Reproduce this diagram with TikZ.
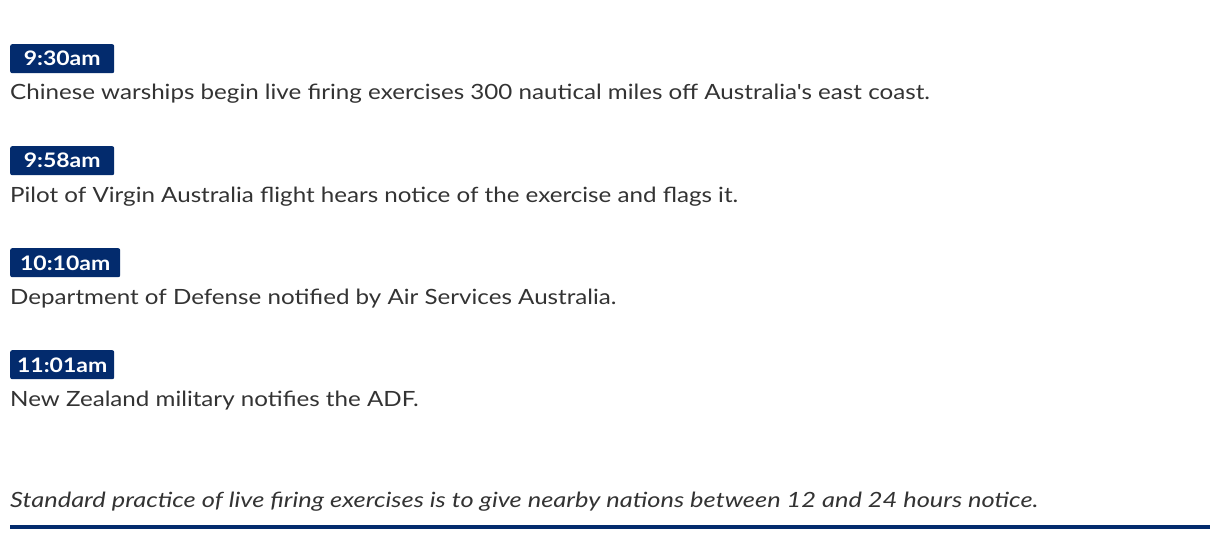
\documentclass[tikz,border=0pt]{standalone}
\usepackage{fontspec}
\setmainfont{Lato}
\newfontfamily\widefont[FakeStretch=1.15]{Lato}
\newfontfamily\wideit[FakeStretch=1.21]{Lato Italic}
\newfontfamily\widebold[FakeStretch=1.15]{Lato Bold}
\definecolor{navy}{HTML}{032B6D}
\definecolor{body}{HTML}{333333}
\begin{document}
\begin{tikzpicture}[x=1pt,y=-1pt,
  badge/.style={fill=navy,rounded corners=2pt,anchor=north west,inner sep=0pt,minimum height=29pt},
  btext/.style={text=white,font=\widebold\fontsize{20}{20}\selectfont,anchor=base,inner sep=0pt},
  line/.style={anchor=base west,inner sep=0pt,text=body,font=\widefont\fontsize{21}{22}\selectfont}]
\useasboundingbox (0,0) rectangle (1220,540);
\fill[white] (0,0) rectangle (1220,540);
\node[badge,minimum width=104pt] (b1) at (10,44) {};
\node[btext] (t1) at (b1.center |- 0,66) {9:30am};
\node[line] (l1) at (10,100) {Chinese warships begin live firing exercises 300 nautical miles off Australia's east coast.};
\node[badge,minimum width=104pt] (b2) at (10,146) {};
\node[btext] (t2) at (b2.center |- 0,168) {9:58am};
\node[line] (l2) at (10,202) {Pilot of Virgin Australia flight hears notice of the exercise and flags it.};
\node[badge,minimum width=110pt] (b3) at (10,248) {};
\node[btext] (t3) at (b3.center |- 0,270) {10:10am};
\node[line] (l3) at (10,304) {Department of Defense notified by Air Services Australia.};
\node[badge,minimum width=104pt] (b4) at (10,350) {};
\node[btext] (t4) at (b4.center |- 0,372) {11:01am};
\node[line] (l4) at (10,406) {New Zealand military notifies the ADF.};
\node[line,font=\wideit\fontsize{21}{22}\selectfont] (note) at (10,507) {Standard practice of live firing exercises is to give nearby nations between 12 and 24 hours notice.};
\fill[navy] (10,525) rectangle (1210,529);
\end{tikzpicture}
\end{document}
